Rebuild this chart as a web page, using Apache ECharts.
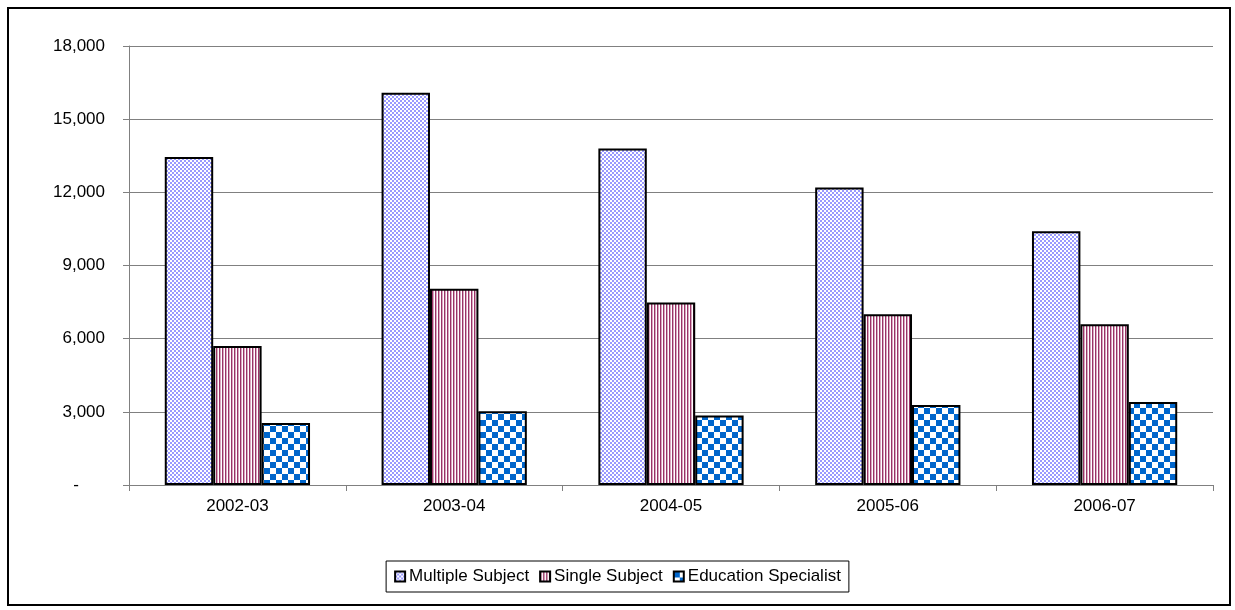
<!DOCTYPE html>
<html>
<head>
<meta charset="utf-8">
<script src="https://cdn.jsdelivr.net/npm/echarts@6/dist/echarts.min.js"></script>
<style>
  html, body { margin: 0; padding: 0; background: #fff; }
  #chart { width: 1235px; height: 610px; }
</style>
</head>
<body>
<div id="chart"></div>
<script>
// 数据
var years = ['2002-03', '2003-04', '2004-05', '2005-06', '2006-07'];
var multipleSubject = [13450, 16080, 13800, 12200, 10400];
var singleSubject = [5700, 8050, 7480, 7000, 6590];
var educationSpecialist = [2540, 3020, 2850, 3280, 3400];
var yTicks = [0, 3000, 6000, 9000, 12000, 15000, 18000];

// 填充图案
function makePattern(w, h, draw) {
    var c = document.createElement('canvas');
    c.width = w;
    c.height = h;
    draw(c.getContext('2d'));
    return { image: c, repeat: 'repeat' };
}

var fineCheck = makePattern(4, 4, function (ctx) {
    ctx.fillStyle = '#ffffff';
    ctx.fillRect(0, 0, 4, 4);
    ctx.fillStyle = '#9999ff';
    ctx.fillRect(0, 0, 2, 2);
    ctx.fillRect(2, 2, 2, 2);
});

var stripes = makePattern(3, 4, function (ctx) {
    ctx.fillStyle = '#ffffff';
    ctx.fillRect(0, 0, 3, 4);
    ctx.fillStyle = '#993366';
    ctx.fillRect(0, 0, 1, 4);
    ctx.fillStyle = '#d8a8c0';
    ctx.fillRect(1, 0, 1, 4);
});

var bigCheck = makePattern(12, 12, function (ctx) {
    ctx.fillStyle = '#ffffff';
    ctx.fillRect(0, 0, 12, 12);
    ctx.fillStyle = '#0066cc';
    ctx.fillRect(0, 0, 6, 6);
    ctx.fillRect(6, 6, 6, 6);
});

var chart = echarts.init(document.getElementById('chart'));

function barSeries(name, data, fill) {
    return {
        name: name,
        type: 'bar',
        data: data,
        barGap: '0%',
        barCategoryGap: '33%',
        itemStyle: {
            color: fill,
            borderColor: '#000',
            borderWidth: 2
        },
        emphasis: { disabled: true }
    };
}

var option = {
    animation: false,
    backgroundColor: '#fff',
    textStyle: { fontFamily: 'Arial, "Liberation Sans", sans-serif' },
    graphic: [{
        type: 'rect',
        shape: { x: 8, y: 8, width: 1222, height: 597 },
        style: { fill: 'none', stroke: '#000', lineWidth: 2 },
        silent: true
    }],
    grid: {
        left: 129,
        right: 22,
        top: 46,
        bottom: 125
    },
    legend: {
        bottom: 18,
        left: 'center',
        icon: 'rect',
        itemWidth: 10,
        itemHeight: 10,
        itemGap: 10,
        padding: [7, 8, 7, 8],
        borderColor: '#000',
        borderWidth: 1,
        textStyle: { fontSize: 17, color: '#000', padding: [0, 0, 0, -1] },
        data: ['Multiple Subject', 'Single Subject', 'Education Specialist']
    },
    xAxis: {
        type: 'category',
        data: years,
        axisLine: { lineStyle: { color: '#808080', width: 1 } },
        axisTick: { show: true, length: 6, lineStyle: { color: '#808080' } },
        axisLabel: { color: '#000', fontSize: 17, margin: 13 }
    },
    yAxis: {
        type: 'value',
        min: yTicks[0],
        max: yTicks[yTicks.length - 1],
        interval: 3000,
        axisLine: { show: true, lineStyle: { color: '#808080', width: 1 } },
        axisTick: { show: true, length: 6, inside: false, lineStyle: { color: '#808080' } },
        splitLine: { lineStyle: { color: '#808080', width: 1 } },
        axisLabel: {
            color: '#000',
            fontSize: 17,
            margin: 24,
            formatter: function (v) {
                if (v === 0) return '{dash|-}';
                return v.toLocaleString('en-US');
            },
            rich: {
                dash: { fontSize: 17, color: '#000', padding: [0, 26, 0, 0] }
            }
        }
    },
    series: [
        barSeries('Multiple Subject', multipleSubject, fineCheck),
        barSeries('Single Subject', singleSubject, stripes),
        barSeries('Education Specialist', educationSpecialist, bigCheck)
    ]
};

chart.setOption(option);
</script>
</body>
</html>
